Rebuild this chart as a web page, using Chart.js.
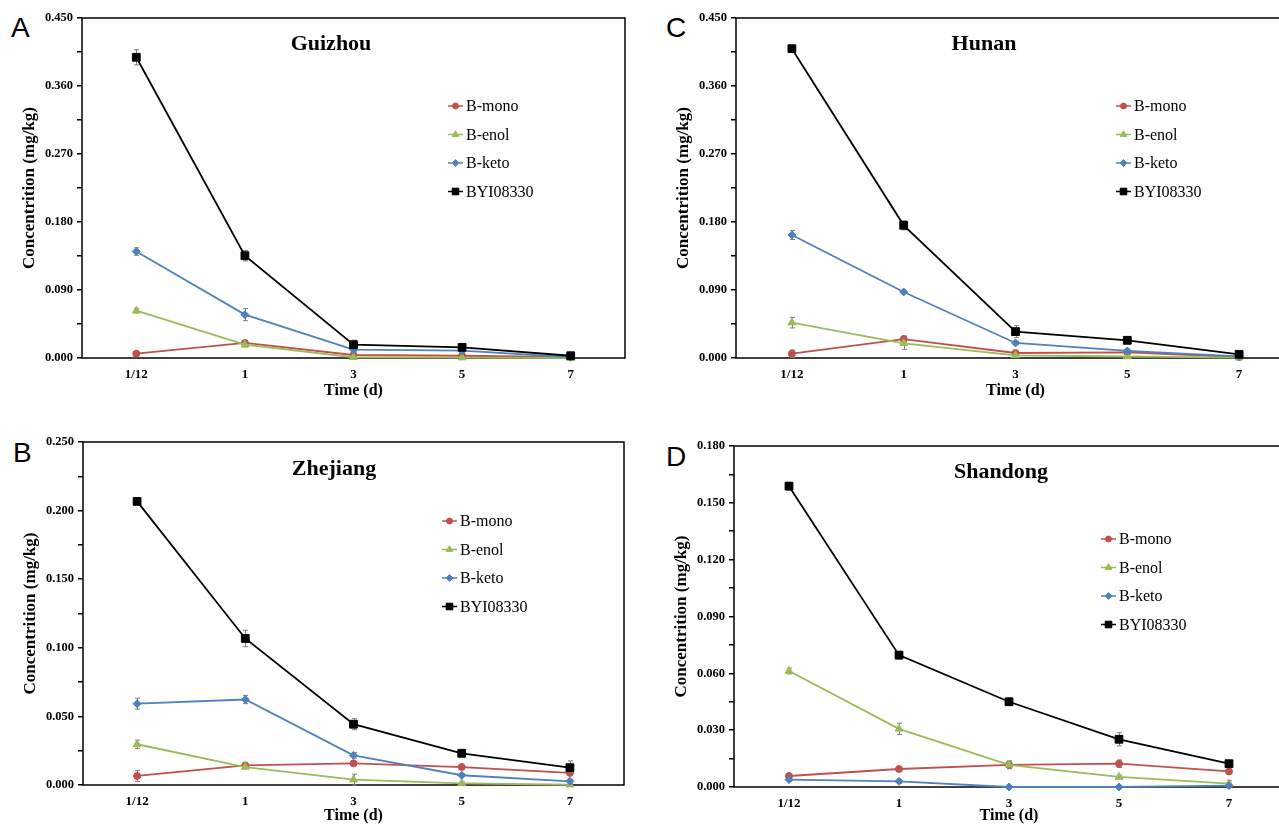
<!DOCTYPE html>
<html>
<head>
<meta charset="utf-8">
<title>Concentration over time</title>
<script src="https://cdn.jsdelivr.net/npm/chart.js@4.4.0/dist/chart.umd.min.js"></script>
<style>
  html, body { margin: 0; padding: 0; background: #fff; width: 1279px; height: 825px; overflow: hidden; }
  body { position: relative; }
  canvas { position: absolute; }
  .letter { position: absolute; font-family: "Liberation Sans", Arial, sans-serif; font-size: 28px; line-height: 28px; color: #000; }
</style>
</head>
<body>
<div class="letter" style="left:11px; top:14px">A</div>
<div class="letter" style="left:666px; top:14px">C</div>
<div class="letter" style="left:13px; top:439px">B</div>
<div class="letter" style="left:666px; top:443px">D</div>

<canvas id="guizhou" width="623" height="400" style="left:12px; top:0px"></canvas>
<canvas id="hunan" width="639" height="400" style="left:666px; top:0px"></canvas>
<canvas id="zhejiang" width="621" height="415" style="left:13px; top:410px"></canvas>
<canvas id="shandong" width="630" height="415" style="left:664px; top:410px"></canvas>

<script>
const days = ['1/12', '1', '3', '5', '7'];
const seriesNames = ['B-mono', 'B-enol', 'B-keto', 'BYI08330'];
const seriesColors = ['#C0504D', '#9BBB59', '#4F81BD', '#000000'];
const seriesMarkers = ['circle', 'triangle', 'rectRot', 'rect'];
const markerSizes = [3.5, 4.5, 4, 5.5];

// Guizhou
const guizhouMono = [0.0057, 0.0199, 0.0040, 0.0030, 0.0010];
const guizhouEnol = [0.0626, 0.0176, 0.0010, 0.0005, 0.0000];
const guizhouKeto = [0.1410, 0.0574, 0.0110, 0.0097, 0.0010];
const guizhouByi = [0.3980, 0.1354, 0.0176, 0.0141, 0.0030];
const guizhouMonoErr = [0.001, 0.002, 0.001, 0.001, 0.001];
const guizhouEnolErr = [0.003, 0.003, 0.001, 0.001, 0.001];
const guizhouKetoErr = [0.005, 0.008, 0.002, 0.002, 0.001];
const guizhouByiErr = [0.010, 0.007, 0.006, 0.003, 0.002];
const guizhouTicks = [0, 0.09, 0.18, 0.27, 0.36, 0.45];

// Hunan
const hunanMono = [0.0057, 0.0251, 0.0066, 0.0075, 0.0013];
const hunanEnol = [0.0468, 0.0194, 0.0035, 0.0020, 0.0005];
const hunanKeto = [0.1628, 0.0874, 0.0199, 0.0093, 0.0020];
const hunanByi = [0.4094, 0.1756, 0.0349, 0.0234, 0.0049];
const hunanMonoErr = [0.005, 0.004, 0.002, 0.002, 0.001];
const hunanEnolErr = [0.007, 0.008, 0.002, 0.001, 0.001];
const hunanKetoErr = [0.006, 0.002, 0.002, 0.002, 0.001];
const hunanByiErr = [0.004, 0.006, 0.008, 0.004, 0.002];
const hunanTicks = [0, 0.09, 0.18, 0.27, 0.36, 0.45];

// Zhejiang
const zhejiangMono = [0.0066, 0.0143, 0.0158, 0.0131, 0.0088];
const zhejiangEnol = [0.0297, 0.0131, 0.0039, 0.0012, 0.0002];
const zhejiangKeto = [0.0593, 0.0623, 0.0216, 0.0071, 0.0027];
const zhejiangByi = [0.2067, 0.1068, 0.0443, 0.0231, 0.0126];
const zhejiangMonoErr = [0.004, 0.001, 0.001, 0.001, 0.001];
const zhejiangEnolErr = [0.003, 0.001, 0.004, 0.001, 0.001];
const zhejiangKetoErr = [0.004, 0.003, 0.002, 0.001, 0.001];
const zhejiangByiErr = [0.002, 0.006, 0.004, 0.001, 0.005];
const zhejiangTicks = [0, 0.05, 0.1, 0.15, 0.2, 0.25];

// Shandong
const shandongMono = [0.0058, 0.0095, 0.0117, 0.0123, 0.0082];
const shandongEnol = [0.0612, 0.0307, 0.0117, 0.0053, 0.0018];
const shandongKeto = [0.0039, 0.0030, 0.0000, 0.0000, 0.0007];
const shandongByi = [0.1588, 0.0696, 0.0450, 0.0252, 0.0123];
const shandongMonoErr = [0.001, 0.001, 0.002, 0.002, 0.001];
const shandongEnolErr = [0.0015, 0.003, 0.002, 0.001, 0.0015];
const shandongKetoErr = [0.001, 0.001, 0, 0, 0.001];
const shandongByiErr = [0.002, 0.002, 0.002, 0.0035, 0.0015];
const shandongTicks = [0, 0.03, 0.06, 0.09, 0.12, 0.15, 0.18];

Chart.defaults.font.family = '"Liberation Serif", "Times New Roman", serif';
Chart.defaults.color = '#000';

// black box round the plot area
const framePlugin = {
    id: 'frame',
    beforeDatasetsDraw(chart) {
        const { ctx, chartArea: a } = chart;
        ctx.save();
        ctx.strokeStyle = '#000';
        ctx.lineWidth = 1.5;
        ctx.strokeRect(a.left, a.top, a.right - a.left, a.bottom - a.top);
        ctx.restore();
    }
};

const errorBarPlugin = {
    id: 'errorBars',
    beforeDatasetsDraw(chart) {
        const { ctx, scales: { x, y } } = chart;
        ctx.save();
        ctx.strokeStyle = '#808080';
        ctx.lineWidth = 1;
        chart.data.datasets.forEach(ds => {
            if (!ds.errors) return;
            ds.data.forEach((v, j) => {
                const e = ds.errors[j];
                if (!e) return;
                const px = Math.round(x.getPixelForValue(j)) + 0.5;
                const top = y.getPixelForValue(v + e);
                const bot = y.getPixelForValue(v - e);
                ctx.beginPath();
                ctx.moveTo(px, top); ctx.lineTo(px, bot);
                ctx.moveTo(px - 2.5, top); ctx.lineTo(px + 2.5, top);
                ctx.moveTo(px - 2.5, bot); ctx.lineTo(px + 2.5, bot);
                ctx.stroke();
            });
        });
        ctx.restore();
    }
};

const insideLegend = {
    id: 'insideLegend',
    afterDraw(chart, args, opts) {
        const { ctx, chartArea: a } = chart;
        chart.data.datasets.forEach((ds, i) => {
            const x0 = a.left + opts.x;
            const y = a.top + opts.y + i * opts.gap;
            ctx.save();
            ctx.strokeStyle = ds.borderColor;
            ctx.lineWidth = 1.5;
            ctx.beginPath();
            ctx.moveTo(x0, y);
            ctx.lineTo(x0 + 15, y);
            ctx.stroke();
            ctx.fillStyle = ds.backgroundColor;
            ctx.lineWidth = 1;
            Chart.helpers.drawPoint(ctx, {
                pointStyle: ds.pointStyle, radius: ds.pointRadius * 0.85, borderWidth: 1, rotation: 0
            }, x0 + 7.5, y);
            ctx.fillStyle = '#000';
            ctx.font = '16px "Liberation Serif"';
            ctx.textAlign = 'left';
            ctx.textBaseline = 'middle';
            ctx.fillText(ds.label, x0 + 18, y + 1);
            ctx.restore();
        });
    }
};

const regionTitle = {
    id: 'regionTitle',
    afterDraw(chart, args, opts) {
        const { ctx, chartArea: a } = chart;
        ctx.save();
        ctx.fillStyle = '#000';
        ctx.font = 'bold 22px "Liberation Serif"';
        ctx.textAlign = 'center';
        ctx.textBaseline = 'alphabetic';
        ctx.fillText(opts.text, a.left + opts.x, a.top + opts.y);
        ctx.restore();
    }
};

function makeChart(id, cfg) {
    const majors = cfg.ticks;
    const allTicks = [];
    majors.forEach((m, i) => {
        allTicks.push(m);
        if (i < majors.length - 1) allTicks.push((m + majors[i + 1]) / 2);
    });

    const datasets = cfg.values.map((vals, i) => ({
        label: seriesNames[i],
        data: vals,
        errors: cfg.errors[i],
        borderColor: seriesColors[i],
        backgroundColor: seriesColors[i],
        borderWidth: 1.8,
        pointStyle: seriesMarkers[i],
        pointRadius: markerSizes[i],
        pointBorderWidth: 1,
        tension: 0,
        clip: false,
        order: 3 - i
    }));

    return new Chart(document.getElementById(id), {
        type: 'line',
        data: { labels: days, datasets: datasets },
        plugins: [framePlugin, errorBarPlugin, insideLegend, regionTitle],
        options: {
            responsive: false,
            animation: false,
            layout: { padding: { left: 0, top: cfg.padTop, right: 10, bottom: 0 } },
            plugins: {
                legend: { display: false },
                tooltip: { enabled: false },
                insideLegend: { x: cfg.legend[0], y: cfg.legend[1], gap: 28.5 },
                regionTitle: { text: cfg.title, x: cfg.titlePos[0], y: cfg.titlePos[1] }
            },
            scales: {
                x: {
                    type: 'category',
                    offset: true,
                    grid: { display: false, drawTicks: false },
                    border: { display: false },
                    ticks: { font: { size: 13, weight: 'bold' }, color: '#000', padding: 9, maxRotation: 0 },
                    title: {
                        display: true, text: 'Time (d)', color: '#000',
                        font: { size: 16, weight: 'bold' }, padding: { top: 0, bottom: 0 }
                    },
                    afterFit(scale) { scale.height = cfg.xHeight; }
                },
                y: {
                    min: majors[0],
                    max: majors[majors.length - 1],
                    afterBuildTicks(scale) { scale.ticks = allTicks.map(v => ({ value: v })); },
                    grid: { drawOnChartArea: false, drawTicks: true, tickLength: 5, color: '#000', lineWidth: 1.5 },
                    border: { display: false },
                    ticks: {
                        autoSkip: false,
                        padding: 4,
                        color: '#000',
                        font: { size: 12.5, weight: 'bold' },
                        callback: v => majors.some(m => Math.abs(m - v) < 1e-9) ? v.toFixed(3) : ''
                    },
                    title: {
                        display: true, text: 'Concentrition (mg/kg)', color: '#000',
                        font: { size: 17, weight: 'bold' }, padding: { top: 7, bottom: 0 }
                    },
                    afterFit(scale) { scale.width = 70; }
                }
            }
        }
    });
}

makeChart('guizhou', {
    values: [guizhouMono, guizhouEnol, guizhouKeto, guizhouByi],
    errors: [guizhouMonoErr, guizhouEnolErr, guizhouKetoErr, guizhouByiErr],
    ticks: guizhouTicks, title: 'Guizhou', titlePos: [249, 32], legend: [366, 88],
    padTop: 18, xHeight: 42
});
makeChart('hunan', {
    values: [hunanMono, hunanEnol, hunanKeto, hunanByi],
    errors: [hunanMonoErr, hunanEnolErr, hunanKetoErr, hunanByiErr],
    ticks: hunanTicks, title: 'Hunan', titlePos: [248, 32], legend: [380, 88],
    padTop: 18, xHeight: 42
});
makeChart('zhejiang', {
    values: [zhejiangMono, zhejiangEnol, zhejiangKeto, zhejiangByi],
    errors: [zhejiangMonoErr, zhejiangEnolErr, zhejiangKetoErr, zhejiangByiErr],
    ticks: zhejiangTicks, title: 'Zhejiang', titlePos: [251, 33], legend: [359, 79],
    padTop: 32, xHeight: 40
});
makeChart('shandong', {
    values: [shandongMono, shandongEnol, shandongKeto, shandongByi],
    errors: [shandongMonoErr, shandongEnolErr, shandongKetoErr, shandongByiErr],
    ticks: shandongTicks, title: 'Shandong', titlePos: [267, 32], legend: [367, 93],
    padTop: 36, xHeight: 38
});
</script>
</body>
</html>
